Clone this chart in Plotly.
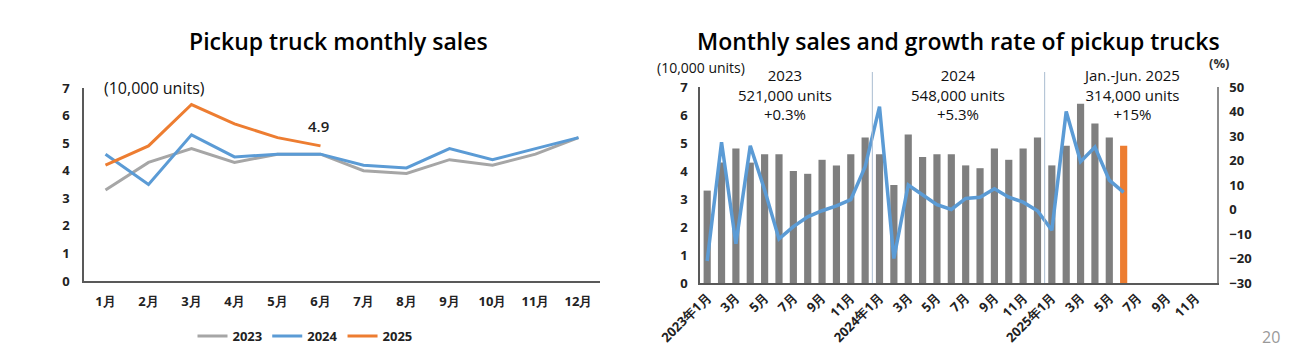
import plotly.graph_objects as go

# ---------------- data ----------------
months = ["1月", "2月", "3月", "4月", "5月", "6月", "7月", "8月", "9月", "10月", "11月", "12月"]
sales_2023 = [3.3, 4.3, 4.8, 4.3, 4.6, 4.6, 4.0, 3.9, 4.4, 4.2, 4.6, 5.2]
sales_2024 = [4.6, 3.5, 5.3, 4.5, 4.6, 4.6, 4.2, 4.1, 4.8, 4.4, 4.8, 5.2]
sales_2025 = [4.2, 4.9, 6.4, 5.7, 5.2, 4.9]

years = ["2023", "2024", "2025"]
period_keys = [f"{y}-{m:02d}" for y in years for m in range(1, 13)]
period_labels = [(f"{y}年{m}月" if m == 1 else f"{m}月") for y in years for m in range(1, 13)]
monthly_sales = sales_2023 + sales_2024 + sales_2025
growth_rate = [-21, 27.5, -14, 26, 8, -12, -7, -3, -0.5, 1.5, 4, 17.5,
               42, -20, 10, 6, 2, 0, 4.5, 5, 8.5, 5, 3, -0.5,
               -8.5, 40, 19.5, 25.5, 12, 7]
year_notes = [["2023", "521,000 units", "+0.3%"],
              ["2024", "548,000 units", "+5.3%"],
              ["Jan.-Jun. 2025", "314,000 units", "+15%"]]

# ---------------- style ----------------
FONT = "Open Sans"
C23, C24, C25 = "#A6A6A6", "#5B9BD5", "#ED7D31"
BAR = "#7F7F7F"
AX = "#595959"
W, H = 1290, 356
OFF = 8  # default page body margin

def px_x(p):
    return (p - OFF) / W

def px_y(p):
    return 1 - (p - OFF) / H

fig = go.Figure()

# left chart
fig.add_trace(go.Scatter(x=months, y=sales_2023, mode="lines", name="2023",
                         line=dict(color=C23, width=3), xaxis="x", yaxis="y"))
fig.add_trace(go.Scatter(x=months, y=sales_2024, mode="lines", name="2024",
                         line=dict(color=C24, width=3), xaxis="x", yaxis="y"))
fig.add_trace(go.Scatter(x=months[:len(sales_2025)], y=sales_2025, mode="lines", name="2025",
                         line=dict(color=C25, width=3), xaxis="x", yaxis="y"))

# right chart
bar_colors = [BAR] * (len(monthly_sales) - 1) + [C25]
fig.add_trace(go.Bar(x=period_keys[:len(monthly_sales)], y=monthly_sales, marker_color=bar_colors,
                     marker_line_width=0, showlegend=False, xaxis="x2", yaxis="y2"))
fig.add_trace(go.Scatter(x=period_keys[:len(growth_rate)], y=growth_rate, mode="lines",
                         line=dict(color=C24, width=3.5), showlegend=False,
                         xaxis="x2", yaxis="y3"))

tickfont = dict(family=FONT, size=13, color="#222222", weight="bold")

fig.update_layout(
    template="none",
    width=W, height=H, margin=dict(l=0, r=0, t=0, b=0, autoexpand=False),
    paper_bgcolor="white", plot_bgcolor="rgba(0,0,0,0)",
    font=dict(family=FONT, color="#111111"),
    bargap=0.5,
    xaxis=dict(domain=[px_x(84), px_x(600)], anchor="y", type="category", automargin=False,
               categoryorder="array", categoryarray=months, range=[-0.5, 11.5],
               showline=True, linecolor=AX, linewidth=1.5, showgrid=False, ticks="",
               tickfont=tickfont, ticklabelstandoff=8),
    yaxis=dict(domain=[px_y(281), px_y(88)], anchor="x", range=[0, 7], dtick=1, automargin=False,
               showline=True, linecolor=AX, linewidth=1.5, showgrid=False, ticks="",
               zeroline=False, tickfont=tickfont, ticklabelstandoff=10),
    xaxis2=dict(domain=[px_x(700), px_x(1217)], anchor="y2", type="category", automargin=False,
                categoryorder="array", categoryarray=period_keys, range=[-0.5, 35.5],
                showline=True, linecolor=AX, linewidth=1.5, showgrid=False, ticks="",
                tickmode="array", tickvals=period_keys[::2], ticktext=period_labels[::2],
                tickangle=-45, tickfont=tickfont),
    yaxis2=dict(domain=[px_y(283), px_y(87)], anchor="x2", range=[0, 7], dtick=1, automargin=False,
                showline=True, linecolor=AX, linewidth=1.5, showgrid=False, ticks="",
                zeroline=False, tickfont=tickfont, ticklabelstandoff=8),
    yaxis3=dict(overlaying="y2", side="right", anchor="x2", range=[-30, 50], dtick=10,
                automargin=False,
                showline=True, linecolor="#8C8C8C", linewidth=1.5, showgrid=False, ticks="",
                zeroline=False, tickfont=tickfont, ticklabelstandoff=8),
    legend=dict(orientation="h", x=px_x(305), xanchor="center", y=px_y(336), yanchor="middle",
                font=dict(family=FONT, size=13, weight="bold", color="#222222"),
                tracegroupgap=0, bgcolor="rgba(0,0,0,0)"),
    showlegend=True,
)

# separators between years on right chart
for xv in [11.5, 23.5]:
    fig.add_shape(type="line", xref="x2", yref="paper", x0=xv, x1=xv,
                  y0=px_y(283), y1=px_y(72), line=dict(color="#A9BCD0", width=1))

def note(text, x, y, size, xanchor="center", weight="normal", color="#111111", yanchor="middle"):
    return dict(text=text, x=px_x(x), y=px_y(y), xref="paper", yref="paper",
                xanchor=xanchor, yanchor=yanchor, showarrow=False, align="center",
                font=dict(family=FONT, size=size, color=color, weight=weight))

ann = [
    note("Pickup truck monthly sales", 338, 41, 23, weight=600, color="#000000"),
    note("Monthly sales and growth rate of pickup trucks", 958, 41, 23, weight=600, color="#000000"),
    note("(10,000 units)", 102, 88, 16, xanchor="left"),
    note("(10,000 units)", 655, 68, 14, xanchor="left"),
    note("(%)", 1219, 63, 13, weight="bold", color="#333333"),
    note("20", 1271, 337, 16, color="#999999"),
]
for xc, lines in zip([785, 958, 1131], year_notes):
    ann.append(note("<br>".join(lines), xc, 94, 15))
ann.append(dict(text="4.9", x=months[len(sales_2025) - 1], y=sales_2025[-1], xref="x", yref="y",
                yshift=20, xshift=-2, showarrow=False,
                font=dict(family=FONT, size=15, color="#222222", weight=600)))
fig.update_layout(annotations=ann)

fig.write_html("out.html")
